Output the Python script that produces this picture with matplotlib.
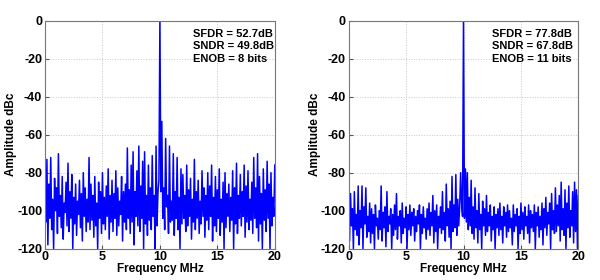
import numpy as np
import matplotlib
matplotlib.use('Agg')
from matplotlib import pyplot as plt

# spectrum of the low resolution converter, dBc, 12 bins per MHz from 0 to 20 MHz
spec_left = [
    -90, -106, -73, -118, -86, -104, -72, -110, -94, -120, -83, -100,
    -88, -112, -70, -103, -92, -109, -82, -115, -96, -101, -85, -108,
    -75, -111, -90, -104, -81, -120, -93, -107, -86, -113, -95, -102,
    -84, -109, -91, -116, -80, -103, -88, -111, -94, -106, -72, -110,
    -86, -105, -92, -114, -82, -108, -96, -120, -85, -104, -90, -112,
    -80, -107, -93, -110, -87, -103, -78, -115, -92, -106, -84, -111,
    -91, -104, -79, -113, -88, -108, -95, -102, -82, -116, -90, -106,
    -86, -110, -67, -104, -89, -112, -76, -106, -69, -118, -90, -103,
    -79, -108, -66, -111, -87, -104, -74, -120, -69, -107, -92, -113,
    -76, -105, -88, -110, -71, -103, -92, -120, -66, -108, -90, -84,
    0, -90, -53, -104, -88, -110, -62, -98, -92, -112, -66, -106,
    -95, -105, -70, -113, -90, -104, -72, -110, -93, -120, -78, -107,
    -81, -104, -92, -111, -76, -108, -89, -103, -83, -115, -94, -106,
    -73, -110, -90, -104, -84, -112, -95, -107, -79, -103, -88, -114,
    -92, -105, -80, -110, -87, -103, -76, -116, -93, -108, -82, -111,
    -89, -104, -78, -113, -94, -106, -85, -120, -80, -109, -91, -103,
    -86, -111, -93, -105, -79, -120, -88, -107, -75, -112, -92, -104,
    -81, -108, -90, -103, -76, -114, -87, -106, -79, -110, -94, -105,
    -85, -112, -72, -104, -88, -109, -70, -116, -82, -107, -91, -120,
    -78, -105, -89, -111, -74, -104, -86, -120, -80, -108, -93, -103,
    -76,
]

# spectrum of the high resolution converter
spec_right = [
    -101, -116, -91, -108, -99, -120, -90, -110, -102, -113, -87, -118,
    -100, -109, -87, -120, -98, -107, -88, -114, -103, -111, -96, -117,
    -99, -112, -102, -120, -97, -108, -104, -115, -100, -110, -87, -116,
    -101, -109, -98, -119, -90, -111, -103, -107, -99, -120, -102, -113,
    -97, -110, -91, -115, -103, -108, -100, -117, -96, -112, -104, -109,
    -98, -120, -102, -110, -97, -113, -101, -108, -99, -116, -103, -111,
    -100, -107, -97, -120, -102, -112, -98, -109, -104, -115, -99, -110,
    -96, -113, -101, -108, -92, -117, -100, -111, -97, -120, -103, -109,
    -98, -112, -90, -110, -101, -116, -86, -108, -99, -114, -95, -120,
    -82, -111, -97, -109, -81, -113, -94, -108, -98, -80, -96, -103,
    0, -104, -78, -106, -80, -110, -93, -108, -84, -112, -98, -115,
    -88, -109, -100, -117, -91, -110, -102, -120, -95, -108, -99, -113,
    -92, -111, -101, -108, -97, -116, -103, -110, -98, -120, -102, -109,
    -99, -113, -96, -110, -103, -117, -98, -108, -101, -114, -97, -111,
    -100, -109, -104, -118, -97, -111, -102, -108, -99, -120, -103, -112,
    -96, -110, -101, -115, -98, -108, -103, -112, -97, -117, -100, -109,
    -102, -111, -97, -120, -101, -108, -98, -114, -103, -110, -96, -118,
    -99, -109, -93, -113, -101, -107, -96, -120, -91, -110, -100, -112,
    -88, -111, -97, -108, -92, -116, -85, -110, -99, -113, -89, -120,
    -96, -109, -87, -114, -100, -108, -90, -117, -85, -111, -89, -120,
    -92,
]

labels_left = ['SFDR = 52.7dB', 'SNDR = 49.8dB', 'ENOB = 8 bits']
labels_right = ['SFDR = 77.8dB', 'SNDR = 67.8dB', 'ENOB = 11 bits']

xticks = [0, 5, 10, 15, 20]
yticks = [0, -20, -40, -60, -80, -100, -120]

plt.rcParams['font.family'] = ['Liberation Sans', 'DejaVu Sans']
plt.rcParams['font.weight'] = 'bold'
plt.rcParams['font.size'] = 8
plt.rcParams['axes.unicode_minus'] = False


def draw(ax, spec, labels, tx):
    freq = np.linspace(0, 20, len(spec))
    ax.plot(freq, spec, color='#0000ff', lw=1.1)
    ax.set_xlim(0, 20)
    ax.set_ylim(-120, 0)
    ax.set_xticks(xticks)
    ax.set_yticks(yticks)
    ax.grid(True, color='#c8c8c8', linestyle=':', linewidth=0.7)
    ax.tick_params(direction='in', length=3, color='#555555', pad=2, labelsize=9)
    for s in ax.spines.values():
        s.set_color('#777777')
        s.set_linewidth(0.8)
    ax.set_xlabel('Frequency MHz', fontweight='bold', fontsize=8.5, labelpad=0)
    ax.set_ylabel('Amplitude dBc', fontweight='bold', fontsize=8.5, labelpad=0)
    ax.text(tx, 0.965, '\n'.join(labels), transform=ax.transAxes,
            va='top', ha='left', fontweight='bold', linespacing=1.35)


fig = plt.figure(figsize=(6, 2.8), dpi=100)
ax1 = fig.add_axes([0.075, 0.112, 0.383, 0.814])
ax2 = fig.add_axes([0.581, 0.112, 0.383, 0.814])
draw(ax1, spec_left, labels_left, 0.643)
draw(ax2, spec_right, labels_right, 0.622)

fig.savefig('out.png', dpi=100)
